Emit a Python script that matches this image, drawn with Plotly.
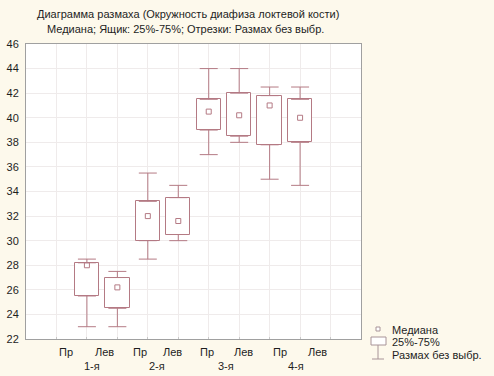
import plotly.graph_objects as go

# ---- data ----
groups = ["1-я", "2-я", "3-я", "4-я"]
sides = ["Пр", "Лев"]
medians = [28.0, 26.2, 32.0, 31.6, 40.5, 40.2, 41.0, 40.0]
q1 = [25.5, 24.5, 30.0, 30.5, 39.0, 38.5, 37.8, 38.0]
q3 = [28.2, 27.0, 33.2, 33.5, 41.5, 42.0, 41.8, 41.5]
mins = [23.0, 23.0, 28.5, 30.0, 37.0, 38.0, 35.0, 34.5]
maxs = [28.5, 27.5, 35.5, 34.5, 44.0, 44.0, 42.5, 42.5]
y_ticks = list(range(22, 47, 2))

title1 = "Диаграмма размаха (Окружность диафиза локтевой кости)"
title2 = "Медиана; Ящик: 25%-75%; Отрезки: Размах без выбр."
legend_labels = ["Медиана", "25%-75%", "Размах без выбр."]

# ---- layout constants ----
W, H = 494, 376
L, R, T, B = 26, 361, 44, 339
FONT = "Liberation Sans, Arial, sans-serif"
BOXC = "#b47a84"
LEGC = "#a89498"
TXT = "#1e1e1e"

xpos = list(range(1, len(medians) + 1))

def px(x):
    return (x - L) / (R - L)

def py(y):
    return (B - y) / (B - T)

fig = go.Figure()

# boxes
fig.add_trace(go.Bar(
    x=xpos, base=q1, y=[b - a for a, b in zip(q1, q3)],
    width=0.8, marker=dict(color="white", line=dict(color=BOXC, width=1)),
    showlegend=False, hoverinfo="skip"))

# upper whiskers
fig.add_trace(go.Scatter(
    x=xpos, y=q3, mode="markers", marker=dict(size=1, opacity=0),
    error_y=dict(type="data", symmetric=False,
                 array=[m - q for m, q in zip(maxs, q3)],
                 arrayminus=[0] * len(q3),
                 color=BOXC, thickness=1, width=9),
    showlegend=False, hoverinfo="skip"))

# lower whiskers
fig.add_trace(go.Scatter(
    x=xpos, y=q1, mode="markers", marker=dict(size=1, opacity=0),
    error_y=dict(type="data", symmetric=False,
                 array=[0] * len(q1),
                 arrayminus=[q - m for m, q in zip(mins, q1)],
                 color=BOXC, thickness=1, width=9),
    showlegend=False, hoverinfo="skip"))

# medians
fig.add_trace(go.Scatter(
    x=xpos, y=medians, mode="markers",
    marker=dict(symbol="square-open", size=5, color=BOXC, line=dict(width=1)),
    showlegend=False, hoverinfo="skip"))

annotations = []
# titles
annotations.append(dict(x=px(188), y=py(14), xref="paper", yref="paper", text=title1,
                        showarrow=False, xanchor="center", yanchor="middle",
                        font=dict(size=11, color=TXT, family=FONT)))
annotations.append(dict(x=px(185), y=py(29), xref="paper", yref="paper", text=title2,
                        showarrow=False, xanchor="center", yanchor="middle",
                        font=dict(size=11, color=TXT, family=FONT)))

# x labels (side and group)
side_px = [66, 104, 140, 172, 207, 243, 280, 317]
group_px = [92, 157, 226, 296]
for i in range(len(medians)):
    annotations.append(dict(x=px(side_px[i]), y=py(352), xref="paper", yref="paper",
                            text=sides[i % 2], showarrow=False, xanchor="center", yanchor="middle",
                            font=dict(size=11, color=TXT, family=FONT)))
for j, g in enumerate(groups):
    annotations.append(dict(x=px(group_px[j]), y=py(366), xref="paper", yref="paper",
                            text=g, showarrow=False, xanchor="center", yanchor="middle",
                            font=dict(size=11, color=TXT, family=FONT)))

# legend
leg_y = [330, 342, 355]
for lbl, yy in zip(legend_labels, leg_y):
    annotations.append(dict(x=px(390), y=py(yy), xref="paper", yref="paper", text=lbl,
                            showarrow=False, xanchor="left", yanchor="middle",
                            font=dict(size=11, color=TXT, family=FONT)))

shapes = [
    dict(type="rect", xref="paper", yref="paper", x0=px(376), x1=px(380), y0=py(331), y1=py(327),
         line=dict(color=LEGC, width=1), fillcolor="white"),
    dict(type="rect", xref="paper", yref="paper", x0=px(371), x1=px(386), y0=py(345), y1=py(337),
         line=dict(color=LEGC, width=1), fillcolor="white"),
    dict(type="line", xref="paper", yref="paper", x0=px(378), x1=px(378), y0=py(345), y1=py(359),
         line=dict(color=LEGC, width=1)),
    dict(type="line", xref="paper", yref="paper", x0=px(372), x1=px(384), y0=py(359), y1=py(359),
         line=dict(color=LEGC, width=1)),
]

fig.update_layout(
    width=W, height=H,
    margin=dict(l=L, r=W - R, t=T, b=H - B, pad=0, autoexpand=False),
    paper_bgcolor="#fdf9ec", plot_bgcolor="white",
    font=dict(family=FONT, size=11, color=TXT),
    showlegend=False,
    bargap=0,
    annotations=annotations, shapes=shapes,
    xaxis=dict(range=[-1, 10], tick0=0, dtick=1, showticklabels=False, automargin=False,
               showgrid=True, gridcolor="#efebeb", gridwidth=1, zeroline=False,
               showline=True, linecolor="#a0a0a0", linewidth=1, mirror=True,
               ticks="inside", ticklen=2, tickcolor="#c8c8c8"),
    yaxis=dict(range=[22, 46], tickvals=y_ticks, ticktext=[str(v) for v in y_ticks],
               automargin=False,
               showgrid=True, gridcolor="#efebeb", gridwidth=1, zeroline=False,
               showline=True, linecolor="#a0a0a0", linewidth=1, mirror=True,
               ticks="", ticklabelstandoff=4,
               tickfont=dict(size=11, color=TXT, family=FONT)),
)

fig.write_html("out.html", config={"displayModeBar": False},
               post_script="document.body.style.margin='0';document.body.style.overflow='hidden';")
